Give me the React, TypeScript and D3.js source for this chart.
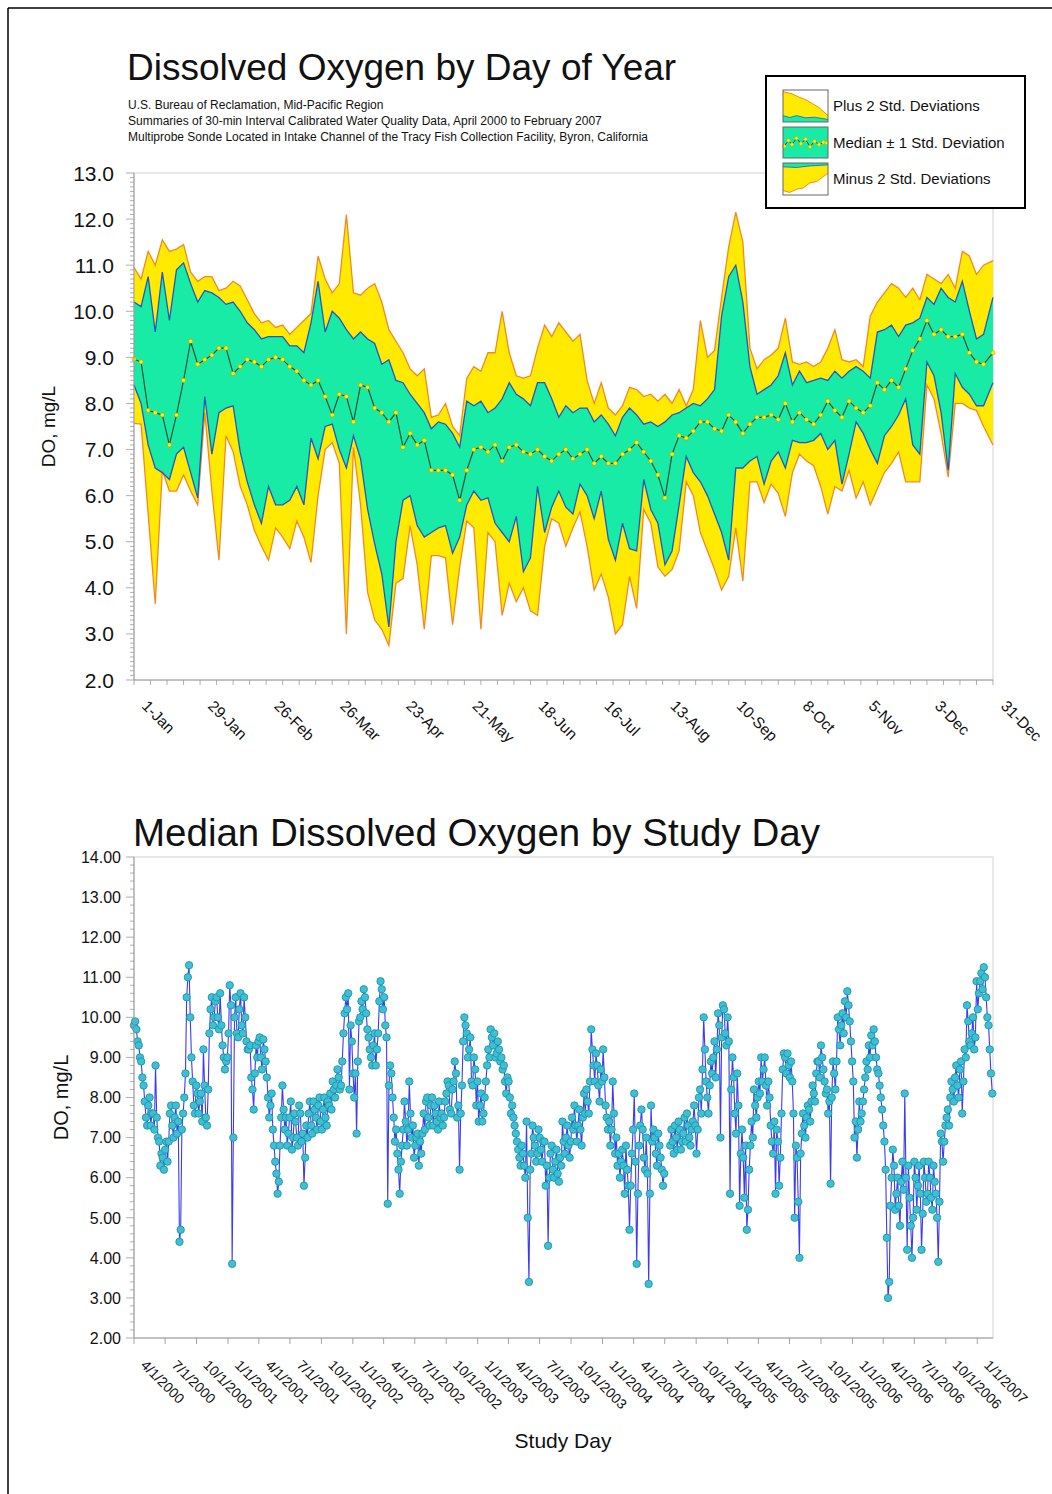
import React from 'react';
import * as d3 from 'd3';

const FONT = '"Liberation Sans", Arial, Helvetica, sans-serif';

// ---------------- Top chart: DO by day of year ----------------
const TITLE_TOP = 'Dissolved Oxygen by Day of Year';
const SUBTITLE_LINES = [
  'U.S. Bureau of Reclamation, Mid-Pacific Region',
  'Summaries of 30-min Interval Calibrated Water Quality Data, April 2000 to February 2007',
  'Multiprobe Sonde Located in Intake Channel of the Tracy Fish Collection Facility, Byron, California',
];
const LEGEND_LABELS = ['Plus 2 Std. Deviations', 'Median \u00B1 1 Std. Deviation', 'Minus 2 Std. Deviations'];
const DOY_TICK_DAYS = [1, 29, 57, 85, 113, 141, 169, 197, 225, 253, 281, 309, 337, 365];
const DOY_TICK_LABELS = ['1-Jan', '29-Jan', '26-Feb', '26-Mar', '23-Apr', '21-May', '18-Jun', '16-Jul', '13-Aug', '10-Sep', '8-Oct', '5-Nov', '3-Dec', '31-Dec'];
const TOP_Y_TICKS = [2, 3, 4, 5, 6, 7, 8, 9, 10, 11, 12, 13];

// day-of-year sample grid (every 3rd day, plus 31-Dec)
const DOY = [...d3.range(1, 364, 3), 365];

const PLUS_2SD = [
  10.95, 10.7, 11.3, 11.0, 11.55, 11.3, 11.35, 11.45, 10.85, 10.65,
  10.75, 10.75, 10.45, 10.5, 10.65, 10.55, 10.25, 9.95, 9.75, 9.8,
  9.65, 9.7, 9.5, 9.65, 9.8, 9.95, 11.2, 10.7, 10.4, 10.6,
  12.1, 10.4, 10.35, 10.5, 10.6, 10.2, 9.6, 9.35, 9.1, 8.75,
  8.6, 8.75, 7.7, 7.75, 8.0, 7.5, 7.3, 8.55, 8.8, 8.7,
  9.1, 9.1, 10.0, 9.1, 8.6, 8.55, 8.6, 9.2, 9.7, 9.45,
  9.75, 9.55, 9.35, 9.5, 8.5, 8.0, 8.45, 7.9, 7.75, 7.95,
  8.35, 8.3, 8.15, 8.2, 8.05, 8.2, 8.0, 8.3, 7.95, 8.3,
  9.8, 9.0, 9.15, 10.3, 11.4, 12.15, 11.5, 9.2, 8.75, 8.95,
  9.05, 9.2, 9.85, 8.9, 8.85, 8.9, 8.8, 8.9, 9.2, 9.6,
  8.95, 8.9, 8.95, 8.8, 9.9, 10.2, 10.4, 10.6, 10.5, 10.3,
  10.5, 10.25, 10.8, 10.7, 10.6, 10.8, 10.5, 11.3, 11.2, 10.8,
  11.0, 11.1,
];
const PLUS_1SD = [
  10.2, 10.1, 10.75, 9.55, 10.85, 9.8, 10.9, 11.05, 10.6, 10.2,
  10.45, 10.4, 10.3, 10.15, 10.2, 10.0, 9.75, 9.6, 9.4, 9.45,
  9.45, 9.45, 9.25, 9.25, 9.1, 9.75, 10.65, 9.55, 10.0, 9.85,
  9.6, 9.4, 9.55, 9.4, 9.3, 8.85, 8.95, 8.5, 8.45, 8.2,
  8.0, 7.8, 7.45, 7.6, 7.55, 7.35, 7.05, 8.05, 7.95, 8.05,
  7.8, 7.9, 8.1, 8.45, 8.2, 8.1, 7.95, 8.45, 8.45, 8.1,
  7.7, 7.95, 7.8, 7.9, 7.9, 7.6, 7.75, 7.55, 7.3, 7.7,
  7.9, 7.75, 7.55, 7.6, 7.5, 7.6, 7.75, 7.8, 7.9, 8.0,
  7.95, 8.1, 8.3, 9.9, 10.75, 11.0, 10.2, 8.8, 8.2, 8.3,
  8.4, 8.6, 9.1, 8.4, 8.7, 8.45, 8.5, 8.55, 8.5, 8.7,
  8.55, 8.7, 8.8, 8.7, 8.55, 9.55, 9.6, 9.7, 9.45, 9.7,
  9.75, 9.85, 10.3, 10.15, 10.5, 10.3, 10.2, 10.65, 10.0, 9.4,
  9.5, 10.3,
];
const MEDIAN_DOY = [
  8.96, 8.9, 7.85, 7.8, 7.75, 7.1, 7.75, 8.5, 9.35, 8.85,
  8.95, 9.05, 9.2, 9.2, 8.65, 8.8, 8.95, 8.9, 8.8, 8.95,
  9.0, 8.95, 8.8, 8.7, 8.5, 8.4, 8.5, 8.15, 7.75, 8.2,
  8.15, 7.6, 8.4, 8.35, 7.9, 7.8, 7.6, 7.8, 7.05, 7.35,
  7.1, 7.2, 6.55, 6.55, 6.55, 6.45, 5.9, 6.55, 7.0, 7.05,
  6.95, 7.1, 6.75, 7.05, 7.1, 6.95, 6.9, 7.0, 6.85, 6.75,
  6.9, 7.0, 6.8, 6.9, 7.0, 6.7, 6.85, 6.7, 6.7, 6.9,
  7.0, 7.15, 6.95, 6.75, 6.45, 5.95, 6.9, 7.3, 7.25, 7.4,
  7.6, 7.6, 7.45, 7.4, 7.75, 7.6, 7.35, 7.55, 7.7, 7.7,
  7.75, 7.65, 8.0, 7.6, 7.8, 7.65, 7.55, 7.75, 8.05, 7.85,
  7.7, 8.05, 7.9, 7.8, 7.95, 8.45, 8.3, 8.5, 8.35, 8.75,
  9.15, 9.4, 9.8, 9.5, 9.6, 9.45, 9.45, 9.5, 9.1, 8.9,
  8.85, 9.1,
];
const MINUS_1SD = [
  8.4, 8.0, 7.1, 6.6, 6.5, 6.35, 6.9, 7.05, 6.5, 5.95,
  8.15, 6.9, 7.8, 7.9, 7.95, 6.95, 6.3, 5.8, 5.4, 6.2,
  5.8, 5.8, 5.9, 6.2, 5.8, 7.25, 6.8, 7.5, 7.55, 7.0,
  6.6, 7.3, 6.8, 5.7, 4.95, 4.3, 3.15, 5.0, 5.9, 6.0,
  5.35, 5.1, 5.2, 5.3, 5.35, 4.75, 5.1, 5.8, 6.1, 5.9,
  5.95, 5.4, 5.2, 5.0, 5.55, 4.35, 4.65, 6.2, 5.2, 5.75,
  6.1, 5.75, 5.6, 6.25, 6.0, 5.5, 6.1, 5.05, 4.6, 5.4,
  4.85, 4.8, 6.35, 5.7, 5.4, 4.5, 4.8, 5.8, 6.85, 6.5,
  6.3, 6.0, 5.6, 5.2, 4.6, 6.6, 6.6, 6.75, 6.85, 6.25,
  6.75, 6.95, 6.6, 7.2, 7.15, 7.15, 7.2, 7.35, 7.0, 7.2,
  6.25, 6.9, 7.6, 7.35, 7.0, 6.7, 7.3, 7.5, 7.75, 8.1,
  7.1, 6.9, 8.9, 8.6, 7.8, 6.55, 8.65, 8.35, 8.2, 7.95,
  7.95, 8.45,
];
const MINUS_2SD = [
  7.57, 7.55, 5.6, 3.65, 6.55, 6.1, 6.1, 6.45, 6.1, 5.8,
  7.8, 6.1, 4.6, 7.3, 6.95, 6.2, 5.8, 5.25, 4.9, 4.6,
  5.3, 5.1, 4.85, 5.45, 5.1, 4.55, 6.0, 7.0, 7.15, 6.7,
  3.0, 7.05, 5.8, 3.9, 3.3, 3.1, 2.75, 4.1, 4.2, 5.35,
  4.5, 3.1, 4.7, 4.7, 4.65, 3.2, 4.45, 5.45, 5.3, 3.1,
  5.2, 5.0, 3.4, 4.1, 3.7, 4.0, 3.5, 3.4, 4.9, 5.5,
  5.4, 4.9, 5.3, 5.65, 4.9, 3.95, 4.3, 3.8, 3.0, 3.2,
  4.25, 3.55, 5.7, 5.4, 4.45, 4.25, 4.4, 4.8, 6.3, 6.0,
  5.2, 4.8, 4.4, 3.95, 4.25, 5.3, 4.15, 6.3, 6.3, 5.85,
  6.25, 6.05, 5.55, 6.5, 6.9, 6.75, 6.65, 6.2, 5.6, 6.2,
  6.1, 6.55, 5.95, 6.3, 5.8, 6.15, 6.5, 6.7, 6.95, 6.3,
  6.3, 6.3, 8.4, 8.1, 7.35, 6.4, 8.0, 8.0, 7.9, 7.85,
  7.5, 7.1,
];

// legend icon shapes (normalised 0..1 inside each swatch)
const ICON_PLUS_EDGE = [[0, 0.05], [0.2, 0.12], [0.35, 0.22], [0.5, 0.3], [0.65, 0.42], [0.8, 0.55], [1, 0.8]];
const ICON_PLUS_GREEN = [[0, 0.8], [0.15, 0.86], [0.3, 0.8], [0.5, 0.87], [0.7, 0.85], [1, 0.92]];
const ICON_MEDIAN = [[0.03, 0.6], [0.12, 0.42], [0.2, 0.55], [0.3, 0.35], [0.4, 0.52], [0.5, 0.38], [0.6, 0.62], [0.7, 0.45], [0.8, 0.55], [0.9, 0.48], [0.97, 0.5]];
const ICON_MINUS_GREEN = [[0, 0.12], [0.3, 0.14], [0.6, 0.09], [1, 0.06]];
const ICON_MINUS_EDGE = [[0, 0.86], [0.15, 0.92], [0.3, 0.82], [0.45, 0.78], [0.6, 0.62], [0.75, 0.58], [0.9, 0.42], [1, 0.32]];

// ---------------- Bottom chart: median DO by study day ----------------
const TITLE_BOTTOM = 'Median Dissolved Oxygen by Study Day';
const STUDY_START = new Date(2000, 3, 1);
const STUDY_END = new Date(2007, 1, 16);
const BOTTOM_Y_TICKS = [2, 3, 4, 5, 6, 7, 8, 9, 10, 11, 12, 13, 14];
// study-day grid (every 3.5 days, plus last day)
const STUDY_DAY = [...d3.range(0, 2506.5, 3.5), 2510];
const DAILY_MEDIAN: (number | null)[] = [
  // Apr 2000 - Dec 2001
  9.8, 9.9, 9.7, 9.4, 9.3, 9.0, 8.9, 8.5, 8.3, 7.9,
  7.5, 7.3, 7.8, 8.0, 7.3, 7.6, 7.6, 7.2, 8.8, 7.5,
  7.0, 6.9, 6.3, 6.6, 6.5, 6.2, 6.7, 6.9, 6.4, 6.9,
  7.6, 7.8, 7.3, 7.0, 7.5, 7.8, 7.1, 7.4, 4.4, 4.7,
  7.2, 7.6, 8.0, 8.6, 10.5, 11.0, 11.3, 10.0, 9.0, 8.4,
  7.8, 7.6, 8.3, 8.1, 7.6, 7.9, 8.1, 7.4, 9.2, 8.3,
  7.5, 7.3, 8.2, 9.6, 10.2, 10.5, 9.8, 10.0, 10.4, 10.5,
  10.0, 9.7, 10.6, 9.8, 9.3, 9.0, 8.7, 8.9, 9.0, 9.6,
  10.8, 10.3, 3.85, 7.0, 10.0, 10.5, 9.6, 9.5, 10.2, 10.6,
  9.8, 9.6, 10.5, 10.0, 9.4, 9.2, 9.2, 9.3, 8.5, 8.2,
  7.7, 8.6, 9.3, 9.0, 9.4, 9.5, 9.0, 8.7, 9.45, 9.2,
  8.9, 8.5, 8.0, 7.5, 7.8, 8.1, 7.2, 6.8, 6.4, 6.1,
  5.6, 5.9, 6.8, 7.5, 8.3, 7.7, 7.2, 7.5, 6.8, 7.1,
  7.5, 7.9, 6.7, 7.0, 7.6, 7.4, 7.0, 6.8, 7.8, 7.6,
  6.9, 7.1, 5.8, 6.5, 7.3, 7.0, 7.6, 7.9, 7.3, 7.1,
  7.9, 7.7, 7.5, 7.2, 7.8, 8.0, 7.4, 7.2, 7.7, 8.0,
  7.5, 7.3, 7.9, 7.8, 8.1, 7.7, 8.4, 8.2, 8.0, 8.3,
  8.7, 8.5, 8.2, 8.3, 8.9, 9.6, 10.1, 10.5,
  // Dec 2001 - Sep 2003
  10.2, 10.6, 8.2, 9.8, 9.4, 8.6, 8.0, 8.6, 7.1, 8.9,
  9.9, 10.0, 10.4, 10.2, 10.7, 10.5, 10.1, 9.7, 9.5, 9.2,
  9.0, 8.8, 9.3, 9.6, 8.8, 9.2, 9.6, 10.4, 10.9, 10.7,
  10.2, 10.5, 9.8, 9.5, 5.35, 8.3, 8.8, 8.6, 8.0, 7.5,
  6.9, 7.2, 6.6, 6.2, 5.6, 6.4, 6.8, 7.2, 7.9, 7.4,
  6.8, 7.2, 8.4, 7.6, 7.0, 7.3, 6.5, 6.8, 7.0, 7.1,
  6.3, 6.9, 6.6, 7.1, 7.6, 7.2, 7.9, 8.0, 7.5, 7.3,
  7.8, 8.0, 7.3, 7.8, 7.6, 7.4, 7.2, 7.9, 7.5, 7.6,
  7.3, 7.5, 7.9, 8.1, 8.4, 8.3, 7.7, 7.6, 8.2, 8.4,
  8.9, 8.6, 7.5, 7.8, 6.2, 7.6, 8.3, 9.4, 10.0, 9.8,
  9.6, 9.0, 9.2, 9.5, 8.4, 8.3, 9.0, 8.7, 7.8, 8.4,
  7.4, 7.8, 8.1, 7.4, 7.6, 8.0, 8.4, 8.8, 9.2, 9.0,
  9.7, 9.5, 9.3, 9.6, 9.0, 9.1, 9.4, 9.2, 8.9, 9.0,
  8.7, 8.8, 8.4, 8.1, 8.5, 8.4, 8.0, 7.6, 7.8, 7.5,
  7.3, 7.1, 6.9, 6.7, 6.5, 6.3, 6.8, 6.6, 6.3, 6.0,
  7.4, 5.0, 3.4, 6.2, 6.6, 7.3, 7.0, 6.8, 6.4, 6.6,
  7.2, 7.0, 6.7, 6.4, 6.9, 6.9, 5.8, 6.3, 4.3, 6.0,
  6.6, 6.8, 6.2, 6.0, 6.4, 6.7, 6.1, 5.9, 6.5, 6.3,
  7.4, 6.9,
  // Sep 2003 - Jun 2005
  6.6, 7.0, 7.3, 6.8, 6.5, 6.9, 7.5, 7.2, 7.8, 7.3,
  6.9, 7.3, 7.7, 7.2, 6.8, 7.5, 8.1, 7.6, 8.2, 7.9,
  7.6, 8.4, 9.7, 9.2, 8.8, 8.4, 9.1, 8.8, 8.3, 7.9,
  8.7, 8.4, 9.2, 8.5, 7.8, 7.5, 7.2, 7.4, 6.8, 7.2,
  8.4, 7.6, 6.6, 7.0, 6.3, 6.6, 6.0, 6.4, 6.7, 6.3,
  5.6, 6.8, 6.2, 5.8, 4.7, 5.8, 6.6, 7.2, 8.1, 6.4,
  3.85, 5.6, 6.8, 7.3, 7.7, 7.2, 6.5, 6.2, 7.0, 6.1,
  3.35, 5.6, 7.8, 6.9, 7.2, 7.0, 6.6, 6.3, 7.1, 6.8,
  6.5, 6.2, 5.8, 6.1, null, null, null, null, 6.8, 7.2,
  6.9, 6.6, 7.3, 7.0, 6.7, 7.4, 7.2, 6.7, 6.9, 7.1,
  7.5, 6.9, 7.6, 7.3, 7.0, 6.8, 7.2, 7.4, 7.8, 7.3,
  6.6, 7.2, 8.0, 8.2, 7.6, 8.7, 10.0, 9.2, 8.4, 8.0,
  7.6, 8.3, 8.9, 8.6, 9.0, 9.4, 8.5, 9.2, 10.1, 9.8,
  7.0, 9.5, 10.3, 10.2, 9.6, 9.3, 10.0, 9.4, 5.6, 8.2,
  9.0, 8.5, 7.6, 7.1, 8.6, 7.8, 5.3, 6.6, 7.2, 6.5,
  5.5, 6.8, 4.7, 5.2, 6.2, 6.8, 7.4, 7.0, 8.2, 7.8,
  7.5, 8.0, 8.4, 8.1, 9.0, 8.4, 8.7, 9.0, 8.3, 7.8,
  8.4, 8.0, 7.3, 6.9, 6.6, 7.4, 5.6, 7.2, 6.9, 5.8,
  // Jun 2005 - Feb 2007
  6.5, 7.6, 8.7, 9.1, 9.0, 8.6, 9.1, 8.8, 8.5, 8.9,
  8.4, 7.6, 5.0, 6.8, 6.5, 5.4, 4.0, 6.6, 7.1, 7.6,
  7.3, 7.0, 7.5, 7.8, 7.7, 7.4, 7.9, 8.3, 8.1, 7.9,
  8.6, 8.9, 8.9, 8.5, 9.3, 9.0, 8.7, 8.4, 8.1, 8.2,
  7.6, 7.9, 5.85, 8.0, 8.9, 8.6, 8.2, 8.9, 10.0, 9.7,
  9.3, 9.8, 10.1, 9.6, 10.4, 10.0, 10.65, 10.3, 9.9, 9.4,
  8.9, 8.4, 7.0, 7.4, 6.5, 7.2, 7.9, 7.4, 7.6, 7.9,
  8.2, 8.5, 8.9, 8.7, 9.3, 9.0, 9.55, 9.3, 9.7, 9.4,
  9.0, 8.7, 8.6, 8.3, 8.0, 7.7, 7.3, 6.9, 6.2, 4.5,
  3.0, 3.4, 5.3, 6.0, 6.7, 6.3, 5.2, 5.6, 6.0, 5.3,
  4.8, 5.9, 6.4, 5.7, 8.1, 6.0, 4.2, 6.3, 5.5, 4.8,
  4.0, 5.0, 6.4, 6.0, 5.2, 5.8, 6.3, 5.6, 4.2, 5.1,
  6.4, 6.0, 5.4, 5.6, 6.4, 6.0, 5.5, 5.2, 6.3, 5.9,
  5.6, 5.0, 3.9, 5.4, 7.1, 6.9, 6.4, 6.9, 7.3, 7.5,
  7.7, 7.3, 8.0, 8.4, 8.2, 7.9, 8.5, 8.8, 8.3, 8.0,
  8.7, 8.9, 7.6, 8.4, 9.2, 9.0, 10.3, 9.9, 9.4, 9.3,
  9.6, 10.0, 9.2, 9.5, 10.9, 10.2, 10.6, 10.9, 11.1, 10.7,
  11.25, 11.0, 10.5, 10.0, 9.8, 9.2, 8.6,
  8.1,
];

// ---------------- styling ----------------
const YELLOW = '#FFEA00';
const ORANGE = '#F28A22';
const GREEN = '#17EBA5';
const BLUE = '#2457C5';
const MEDIAN_LINE = '#24503A';
const AXIS = '#9a9a9a';
const FRAME = '#d2d2d2';

const TOP = { left: 134, right: 993, top: 173, bottom: 680 };
const BOT = { left: 134, right: 993, top: 857, bottom: 1338 };

function TopChart() {
  const x = d3.scaleLinear().domain([1, 365]).range([TOP.left, TOP.right]);
  const y = d3.scaleLinear().domain([2, 13]).range([TOP.bottom, TOP.top]);
  const idx = DOY.map((_, i) => i);
  const band = (hi: number[], lo: number[]) =>
    d3.area<number>().x((i) => x(DOY[i])).y0((i) => y(lo[i])).y1((i) => y(hi[i]))(idx) || '';
  const line = (v: number[]) => d3.line<number>().x((i) => x(DOY[i])).y((i) => y(v[i]))(idx) || '';
  const minorY = d3.range(20, 131).map((v) => v / 10);
  const minorX = d3.range(1, 366, 7);

  return (
    <g>
      <rect x={TOP.left} y={TOP.top} width={TOP.right - TOP.left} height={TOP.bottom - TOP.top} fill="#fff" stroke={FRAME} />
      <path d={band(PLUS_2SD, MINUS_2SD)} fill={YELLOW} />
      <path d={band(PLUS_1SD, MINUS_1SD)} fill={GREEN} />
      <path d={line(PLUS_2SD)} fill="none" stroke={ORANGE} strokeWidth={1.3} />
      <path d={line(MINUS_2SD)} fill="none" stroke={ORANGE} strokeWidth={1.3} />
      <path d={line(PLUS_1SD)} fill="none" stroke={BLUE} strokeWidth={1.3} />
      <path d={line(MINUS_1SD)} fill="none" stroke={BLUE} strokeWidth={1.3} />
      <path d={line(MEDIAN_DOY)} fill="none" stroke={MEDIAN_LINE} strokeWidth={1.2} />
      {MEDIAN_DOY.map((v, i) => (
        <circle key={i} cx={x(DOY[i])} cy={y(v)} r={2.1} fill="#FFF200" stroke="#C99A00" strokeWidth={0.6} />
      ))}
      <line x1={TOP.left} x2={TOP.left} y1={TOP.top} y2={TOP.bottom} stroke={AXIS} />
      <line x1={TOP.left} x2={TOP.right} y1={TOP.bottom} y2={TOP.bottom} stroke={AXIS} />
      {minorY.map((v) => (
        <line key={'my' + v} x1={TOP.left - (Math.abs(v - Math.round(v)) < 1e-6 ? 8 : 4)} x2={TOP.left} y1={y(v)} y2={y(v)} stroke={AXIS} strokeWidth={0.8} />
      ))}
      {TOP_Y_TICKS.map((v) => (
        <text key={'yl' + v} x={114} y={y(v)} dy="0.36em" textAnchor="end" fontSize={21} fontFamily={FONT} fill="#111">
          {d3.format('.1f')(v)}
        </text>
      ))}
      {minorX.map((d) => (
        <line key={'mx' + d} x1={x(d)} x2={x(d)} y1={TOP.bottom} y2={TOP.bottom + 5} stroke={AXIS} strokeWidth={0.8} />
      ))}
      {DOY_TICK_DAYS.map((d, i) => (
        <text key={'xl' + d} transform={`translate(${x(d) + 7},${TOP.bottom + 27}) rotate(45)`} fontSize={15.5} fontFamily={FONT} fill="#111">
          {DOY_TICK_LABELS[i]}
        </text>
      ))}
      <text transform={`translate(55,${(TOP.top + TOP.bottom) / 2}) rotate(-90)`} textAnchor="middle" fontSize={19} fontFamily={FONT} fill="#111">
        DO, mg/L
      </text>
    </g>
  );
}

function Legend() {
  const bx = 766, by = 76, bw = 259, bh = 132;
  const sw = 45, sh = 32, sx = 783;
  const rows = [90, 127, 163];
  const sX = d3.scaleLinear().domain([0, 1]).range([0, sw]);
  const sY = d3.scaleLinear().domain([0, 1]).range([0, sh]);
  const topArea = (pts: number[][]) =>
    d3.area<number[]>().x((p) => sX(p[0])).y0(sh).y1((p) => sY(p[1]))(pts) || '';
  const bottomArea = (pts: number[][]) =>
    d3.area<number[]>().x((p) => sX(p[0])).y0(0).y1((p) => sY(p[1]))(pts) || '';
  const ln = (pts: number[][]) => d3.line<number[]>().x((p) => sX(p[0])).y((p) => sY(p[1]))(pts) || '';
  return (
    <g>
      <rect x={bx} y={by} width={bw} height={bh} fill="#fff" stroke="#000" strokeWidth={2} />
      <g transform={`translate(${sx},${rows[0]})`}>
        <rect width={sw} height={sh} fill="#fff" />
        <path d={topArea(ICON_PLUS_EDGE)} fill={YELLOW} />
        <path d={ln(ICON_PLUS_EDGE)} fill="none" stroke={ORANGE} strokeWidth={1} />
        <path d={topArea(ICON_PLUS_GREEN)} fill={GREEN} />
        <path d={ln(ICON_PLUS_GREEN)} fill="none" stroke={BLUE} strokeWidth={0.8} />
        <rect width={sw} height={sh} fill="none" stroke="#666" strokeWidth={1} />
      </g>
      <g transform={`translate(${sx},${rows[1]})`}>
        <rect width={sw} height={sh - 1} fill={GREEN} />
        <path d={ln(ICON_MEDIAN)} fill="none" stroke={MEDIAN_LINE} strokeWidth={1} />
        {ICON_MEDIAN.map((p, i) => (
          <circle key={i} cx={sX(p[0])} cy={sY(p[1])} r={1.8} fill="#FFF200" stroke="#C99A00" strokeWidth={0.5} />
        ))}
        <rect width={sw} height={sh - 1} fill="none" stroke="#666" strokeWidth={1} />
      </g>
      <g transform={`translate(${sx},${rows[2]})`}>
        <rect width={sw} height={sh} fill="#fff" />
        <path d={bottomArea(ICON_MINUS_EDGE)} fill={YELLOW} />
        <path d={ln(ICON_MINUS_EDGE)} fill="none" stroke={ORANGE} strokeWidth={1} />
        <path d={bottomArea(ICON_MINUS_GREEN)} fill={GREEN} />
        <path d={ln(ICON_MINUS_GREEN)} fill="none" stroke={BLUE} strokeWidth={0.8} />
        <rect width={sw} height={sh} fill="none" stroke="#666" strokeWidth={1} />
      </g>
      {LEGEND_LABELS.map((t, i) => (
        <text key={t} x={833} y={rows[i] + sh / 2} dy="0.35em" fontSize={15} fontFamily={FONT} fill="#111">
          {t}
        </text>
      ))}
    </g>
  );
}

function BottomChart() {
  const x = d3.scaleTime().domain([STUDY_START, STUDY_END]).range([BOT.left, BOT.right]);
  const y = d3.scaleLinear().domain([2, 14]).range([BOT.bottom, BOT.top]);
  const n = Math.min(STUDY_DAY.length, DAILY_MEDIAN.length);
  const dates = STUDY_DAY.slice(0, n).map((d) => new Date(+STUDY_START + d * 864e5));
  const idx = d3.range(n);
  const path =
    d3
      .line<number>()
      .defined((i) => DAILY_MEDIAN[i] != null)
      .x((i) => x(dates[i]))
      .y((i) => y(DAILY_MEDIAN[i] as number))(idx) || '';
  const ticks = d3.timeMonth.every(3)!.range(STUDY_START, new Date(2007, 0, 2));
  const fmt = d3.timeFormat('%-m/%-d/%Y');
  const minorY = d3.range(10, 71).map((v) => v / 5);
  return (
    <g>
      <rect x={BOT.left} y={BOT.top} width={BOT.right - BOT.left} height={BOT.bottom - BOT.top} fill="#fff" stroke={FRAME} />
      <path d={path} fill="none" stroke="#3B3BF5" strokeWidth={1.1} />
      {idx.map((i) =>
        DAILY_MEDIAN[i] == null ? null : (
          <circle key={i} cx={x(dates[i])} cy={y(DAILY_MEDIAN[i] as number)} r={3.7} fill="#3DC0D3" stroke="#2293A8" strokeWidth={0.9} />
        )
      )}
      <line x1={BOT.left} x2={BOT.left} y1={BOT.top} y2={BOT.bottom} stroke={AXIS} />
      <line x1={BOT.left} x2={BOT.right} y1={BOT.bottom} y2={BOT.bottom} stroke={AXIS} />
      {minorY.map((v) => (
        <line key={'my' + v} x1={BOT.left - (Math.abs(v - Math.round(v)) < 1e-6 ? 8 : 4)} x2={BOT.left} y1={y(v)} y2={y(v)} stroke={AXIS} strokeWidth={0.8} />
      ))}
      {BOTTOM_Y_TICKS.map((v) => (
        <text key={'yl' + v} x={121} y={y(v)} dy="0.36em" textAnchor="end" fontSize={16} fontFamily={FONT} fill="#111">
          {d3.format('.2f')(v)}
        </text>
      ))}
      {ticks.map((t) => (
        <g key={+t}>
          <line x1={x(t)} x2={x(t)} y1={BOT.bottom} y2={BOT.bottom + 6} stroke={AXIS} strokeWidth={0.9} />
          <text transform={`translate(${x(t) + 6},${BOT.bottom + 28}) rotate(45)`} fontSize={14} fontFamily={FONT} fill="#111">
            {fmt(t)}
          </text>
        </g>
      ))}
      <text transform={`translate(68,${(BOT.top + BOT.bottom) / 2}) rotate(-90)`} textAnchor="middle" fontSize={20} fontFamily={FONT} fill="#111">
        DO, mg/L
      </text>
      <text x={563} y={1448} textAnchor="middle" fontSize={21} fontFamily={FONT} fill="#111">
        Study Day
      </text>
    </g>
  );
}

export default function App() {
  return (
    <svg
      width={1052}
      height={1494}
      viewBox="0 0 1052 1494"
      style={{ position: 'absolute', left: 0, top: 0, background: '#fff' }}
      fontFamily={FONT}
    >
      <rect width={1052} height={1494} fill="#fff" />
      <line x1={8} y1={8} x2={1052} y2={8} stroke="#000" strokeWidth={1.5} />
      <line x1={8} y1={8} x2={8} y2={1494} stroke="#000" strokeWidth={1.5} />
      <text x={127} y={80} fontSize={37} fontFamily={FONT} fill="#111">
        {TITLE_TOP}
      </text>
      {SUBTITLE_LINES.map((t, i) => (
        <text key={i} x={128} y={109 + i * 16} fontSize={12} fontFamily={FONT} fill="#111">
          {t}
        </text>
      ))}
      <TopChart />
      <Legend />
      <text x={133} y={846} fontSize={38.5} fontFamily={FONT} fill="#111">
        {TITLE_BOTTOM}
      </text>
      <BottomChart />
    </svg>
  );
}
